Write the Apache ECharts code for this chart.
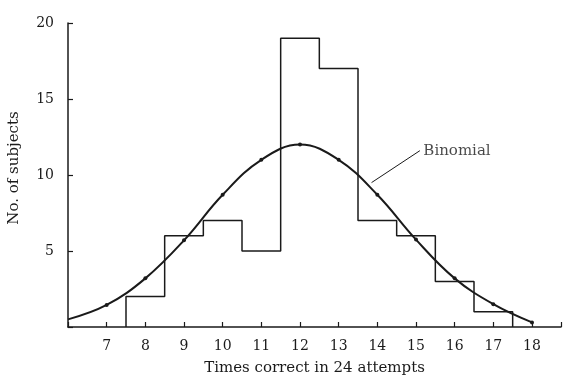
<!DOCTYPE html>
<html>
<head>
<meta charset="utf-8">
<script src="https://cdn.jsdelivr.net/npm/echarts@6/dist/echarts.min.js"></script>
<style>html,body{margin:0;padding:0;background:#fff}#c{width:563px;height:378px}</style>
</head>
<body>
<div id="c"></div>
<script>
// Observed histogram: bins centred on these scores (width 1)
const binCenters = [8, 9, 10, 11, 12, 13, 14, 15, 16, 17];
const binCounts  = [2, 6, 7, 5, 19, 17, 7, 6, 3, 1];
// Binomial curve
const curveX = [6, 7, 8, 9, 10, 11, 12, 13, 14, 15, 16, 17, 18];
const curveY = [0.5, 1.45, 3.2, 5.7, 8.7, 11.0, 12.0, 11.0, 8.7, 5.75, 3.2, 1.5, 0.3];
const xTicks = [7, 8, 9, 10, 11, 12, 13, 14, 15, 16, 17, 18];
const yTicks = [5, 10, 15, 20];
const leader = [[13.85, 9.5], [15.1, 11.6]];
const leaderText = 'Binomial';

const ink = '#1a1a1a';
const font = 'DejaVu Serif';

// step outline built from the bins
const stepData = [];
binCenters.forEach((c, i) => {
  const l = c - 0.5, r = c + 0.5;
  if (i === 0) stepData.push([l, 0]);
  stepData.push([l, binCounts[i]]);
  stepData.push([r, binCounts[i]]);
  if (i === binCenters.length - 1) stepData.push([r, 0]);
});

const curveData = curveX.map((x, i) => ({
  value: [x, curveY[i]],
  symbolSize: (x >= 7) ? 4 : 0
}));

const chart = echarts.init(document.getElementById('c'), null, {renderer: 'canvas'});
chart.setOption({
  animation: false,
  backgroundColor: '#fff',
  grid: {left: 68, right: 2, top: 23, bottom: 51, containLabel: false, outerBoundsMode: 'none'},
  xAxis: {
    type: 'value', min: 6, max: 18.75, interval: 1,
    name: 'Times correct in 24 attempts', nameLocation: 'middle', nameGap: 34,
    nameTextStyle: {fontFamily: font, fontSize: 15, color: ink},
    axisLine: {lineStyle: {color: ink, width: 1.5}},
    axisTick: {show: true, inside: true, length: 5, lineStyle: {color: ink, width: 1.2}},
    axisLabel: {inside: false, fontFamily: font, fontSize: 14, color: ink, margin: 12,
      formatter: v => xTicks.indexOf(v) >= 0 ? String(v) : ''},
    splitLine: {show: false}
  },
  yAxis: {
    type: 'value', min: 0, max: 20, interval: 5,
    name: 'No. of subjects', nameLocation: 'middle', nameGap: 46,
    nameTextStyle: {fontFamily: font, fontSize: 15, color: ink, padding: [0, 0, 0, 14]},
    axisLine: {show: true, lineStyle: {color: ink, width: 1.5}},
    axisTick: {show: true, inside: true, length: 5, lineStyle: {color: ink, width: 1.2}},
    axisLabel: {inside: false, fontFamily: font, fontSize: 14, color: ink, margin: 14,
      formatter: v => yTicks.indexOf(v) >= 0 ? String(v) : ''},
    splitLine: {show: false}
  },
  series: [
    {
      type: 'line', data: stepData, symbol: 'none',
      lineStyle: {color: ink, width: 1.5}, z: 2
    },
    {
      type: 'line', data: curveData, smooth: 0.4, symbol: 'circle',
      itemStyle: {color: ink}, lineStyle: {color: ink, width: 2}, z: 3
    },
    {
      type: 'line', symbol: 'none', lineStyle: {color: ink, width: 1},
      data: leader, z: 4
    },
    {
      type: 'scatter', symbolSize: 1, itemStyle: {color: 'rgba(0,0,0,0)'},
      data: [leader[1]],
      label: {show: true, position: 'right', distance: 3, formatter: leaderText,
        fontFamily: font, fontSize: 15, color: ink},
      z: 4
    }
  ]
});
</script>
</body>
</html>
